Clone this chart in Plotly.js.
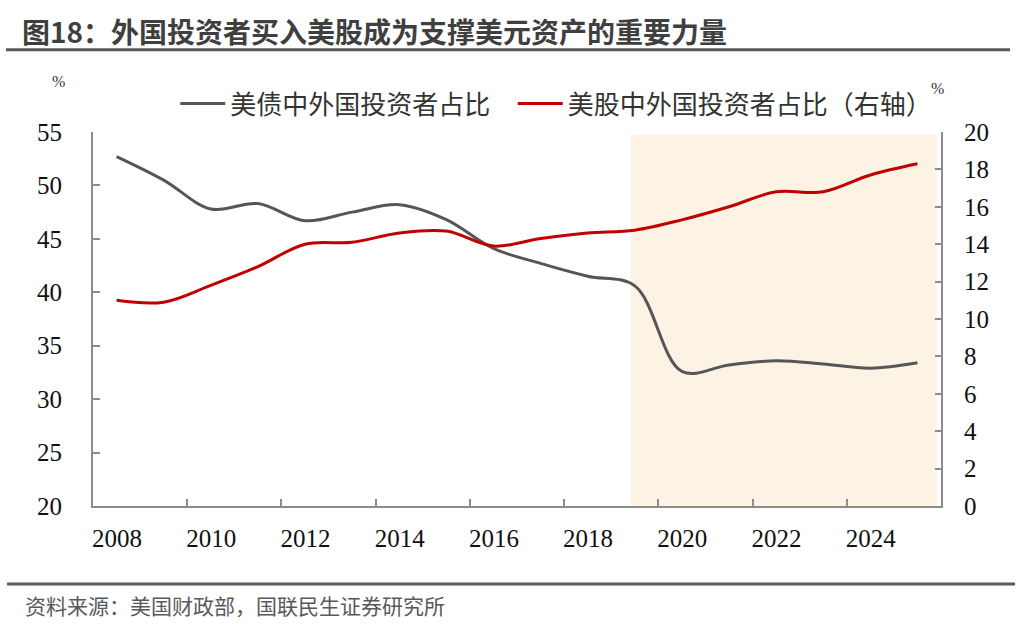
<!DOCTYPE html>
<html>
<head>
<meta charset="utf-8">
<script src="https://cdn.plot.ly/plotly-3.0.1.min.js"></script>
<style>
  body { margin: 0; background: #fff; }
  #chart { width: 1024px; height: 624px; }
</style>
</head>
<body>
<div id="chart"></div>
<script>
// yearly data
var years = [2008, 2009, 2010, 2011, 2012, 2013, 2014, 2015, 2016,
             2017, 2018, 2019, 2020, 2021, 2022, 2023, 2024, 2025];
var bondShare = [52.7, 50.5, 47.8, 48.3, 46.7, 47.5, 48.2, 46.8, 44.1,
                 42.7, 41.5, 40.6, 32.6, 33.2, 33.6, 33.3, 32.9, 33.4];
var stockShare = [11.0, 10.9, 11.8, 12.8, 14.0, 14.1, 14.6, 14.7, 13.9,
                  14.3, 14.6, 14.75, 15.3, 16.0, 16.8, 16.8, 17.7, 18.3];

// ticks sit on the boundaries, labels in the middle of the year
var tickYears = [2007.5, 2009.5, 2011.5, 2013.5, 2015.5, 2017.5, 2019.5, 2021.5, 2023.5];
var tickText = ['2008', '2010', '2012', '2014', '2016', '2018', '2020', '2022', '2024'];

var shadeStart = 2018.91, shadeEnd = 2025.41;

var serif = 'Liberation Serif, Times New Roman, serif';
var cjk = 'Noto Sans CJK SC, sans-serif';
var axisGray = '#8c8c8c';

var traces = [
  {
    x: years, y: bondShare, name: '美债中外国投资者占比\u00a0\u00a0\u00a0',
    type: 'scatter', mode: 'lines',
    line: {color: '#565656', width: 3, shape: 'spline', smoothing: 1},
    yaxis: 'y'
  },
  {
    x: years, y: stockShare, name: '美股中外国投资者占比（右轴）',
    type: 'scatter', mode: 'lines',
    line: {color: '#C00000', width: 3, shape: 'spline', smoothing: 1},
    yaxis: 'y2'
  }
];

var layout = {
  width: 1024, height: 624,
  margin: {l: 93, r: 83, t: 132, b: 118},
  paper_bgcolor: '#fff', plot_bgcolor: 'rgba(0,0,0,0)',
  showlegend: true,
  title: {
    text: '图18：外国投资者买入美股成为支撑美元资产的重要力量',
    xref: 'container', yref: 'container',
    x: 22 / 1024, xanchor: 'left',
    y: 1 - 33 / 624, yanchor: 'middle',
    font: {family: cjk, size: 28, weight: 'bold', color: '#3f3f3f'}
  },
  legend: {
    orientation: 'h',
    x: 0.097, xanchor: 'left',
    y: 1.076, yanchor: 'middle',
    itemwidth: 45,
    font: {family: cjk, size: 26, color: '#333'},
    bgcolor: 'rgba(0,0,0,0)'
  },
  xaxis: {
    range: [2007.5, 2025.5],
    tickvals: tickYears, ticktext: tickText,
    ticklabelshift: 24,
    ticks: 'inside', ticklen: 7, tickwidth: 2, tickcolor: axisGray,
    showline: true, linecolor: axisGray, linewidth: 2,
    showgrid: false, zeroline: false,
    ticklabelstandoff: 9,
    tickfont: {family: serif, size: 25, color: '#111'}
  },
  yaxis: {
    range: [20, 55], dtick: 5,
    ticks: 'inside', ticklen: 7, tickwidth: 2, tickcolor: axisGray,
    showline: true, linecolor: axisGray, linewidth: 2,
    showgrid: false, zeroline: false,
    ticklabelstandoff: 24,
    tickfont: {family: serif, size: 25, color: '#111'}
  },
  yaxis2: {
    overlaying: 'y', side: 'right', anchor: 'x',
    range: [0, 20], dtick: 2,
    ticks: 'inside', ticklen: 6, tickwidth: 2, tickcolor: axisGray,
    showline: true, linecolor: axisGray, linewidth: 2,
    showgrid: false, zeroline: false,
    ticklabelstandoff: 16,
    tickfont: {family: serif, size: 25, color: '#111'}
  },
  shapes: [
    {type: 'rect', xref: 'x', yref: 'paper', x0: shadeStart, x1: shadeEnd, y0: 0, y1: 0.993,
     fillcolor: '#FDF3E5', line: {width: 0}, layer: 'below'},
    {type: 'line', xref: 'paper', yref: 'paper', x0: -0.1026, x1: 1.0814, y0: 1.220, y1: 1.220,
     line: {color: '#5a5a5a', width: 3}},
    {type: 'line', xref: 'paper', yref: 'paper', x0: -0.1014, x1: 1.0873, y0: -0.2087, y1: -0.2087,
     line: {color: '#5a5a5a', width: 3}}
  ],
  annotations: [
    {text: '%', xref: 'paper', yref: 'paper', x: -0.0507, y: 1.1346, yanchor: 'middle',
     showarrow: false, font: {family: serif, size: 16, color: '#333'}},
    {text: '%', xref: 'paper', yref: 'paper', x: 1.006, y: 1.115, yanchor: 'middle',
     showarrow: false, font: {family: serif, size: 16, color: '#333'}},
    {text: '资料来源：美国财政部，国联民生证券研究所', xref: 'paper', yref: 'paper',
     x: -0.0825, y: -0.265, xanchor: 'left', yanchor: 'middle',
     showarrow: false, font: {family: cjk, size: 21, color: '#595959'}}
  ]
};

Plotly.newPlot('chart', traces, layout, {displayModeBar: false, staticPlot: true});
</script>
</body>
</html>
